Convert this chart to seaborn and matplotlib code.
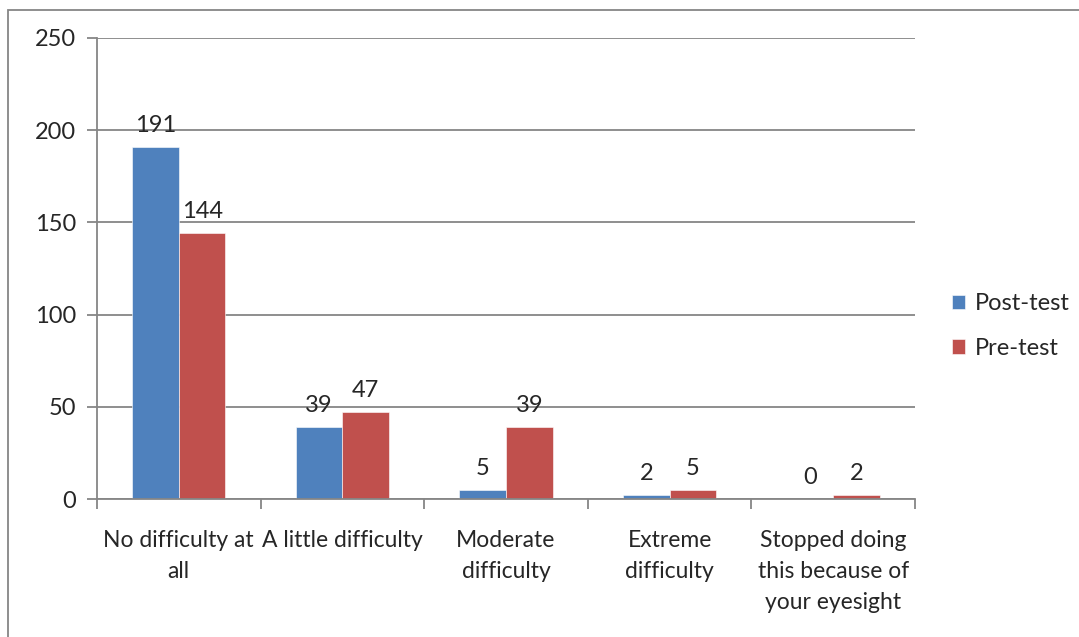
import pandas as pd
import numpy as np
import seaborn as sns
import matplotlib.pyplot as plt
from matplotlib.patches import Rectangle

categories = ["No difficulty at\nall", "A little difficulty", "Moderate\ndifficulty",
              "Extreme\ndifficulty", "Stopped doing\nthis because of\nyour eyesight"]
post_test = [191, 39, 5, 2, 0]
pre_test = [144, 47, 39, 5, 2]
series = ["Post-test", "Pre-test"]
colors = ["#4F81BD", "#C0504D"]

df = pd.DataFrame({
    "category": categories * 2,
    "value": post_test + pre_test,
    "series": [series[0]] * len(categories) + [series[1]] * len(categories),
})

sns.set_style("white")
plt.rcParams['font.family'] = ['Lato', 'DejaVu Sans']
grid_col = "#868686"
fs = 17

fig = plt.figure(figsize=(10.79, 6.37), dpi=100)
ax = fig.add_axes([97 / 1079, 1 - 499 / 637, (915 - 97) / 1079, (499 - 38) / 637])

sns.barplot(data=df, x="category", y="value", hue="series", palette=colors,
            width=0.57, gap=0, ax=ax, saturation=1, edgecolor="white", linewidth=0.4)

for c in ax.containers:
    ax.bar_label(c, padding=8, fontsize=fs)

ax.set_ylim(0, 250)
ax.set_xlim(-0.5, 4.5)
ax.set_yticks(np.arange(0, 251, 50))
ax.yaxis.grid(True, color=grid_col, linewidth=1.3)
ax.set_axisbelow(True)
ax.set_xlabel("")
ax.set_ylabel("")

ax.set_xticks(range(len(categories)))
ax.set_xticklabels(categories, fontsize=16.5, linespacing=1.6)
ax.set_xticks(np.arange(-0.5, 5, 1), minor=True)
ax.tick_params(axis="x", which="major", length=0, pad=22)
ax.tick_params(axis="x", which="minor", length=7, width=1.3, color=grid_col, direction="out")
ax.tick_params(axis="y", length=7, width=1.3, color=grid_col, direction="out", labelsize=fs, pad=8)
ax.tick_params(bottom=True, left=True, which="both")

for s in ["top", "right"]:
    ax.spines[s].set_visible(False)
for s in ["left", "bottom"]:
    ax.spines[s].set_color(grid_col)
    ax.spines[s].set_linewidth(1.3)

handles, labels = ax.get_legend_handles_labels()
ax.legend(handles, labels, loc="center left", bbox_to_anchor=(931 / 1079, 1 - 326 / 637),
          bbox_transform=fig.transFigure, frameon=False, fontsize=fs,
          handlelength=0.55, handleheight=0.55, handletextpad=0.4, labelspacing=1.0)

fig.patches.append(Rectangle((8 / 1079, -0.05), 1.2, 1.05 - 10 / 637, transform=fig.transFigure,
                             fill=False, edgecolor=grid_col, linewidth=1.3))

plt.savefig("out.png", dpi=100)
